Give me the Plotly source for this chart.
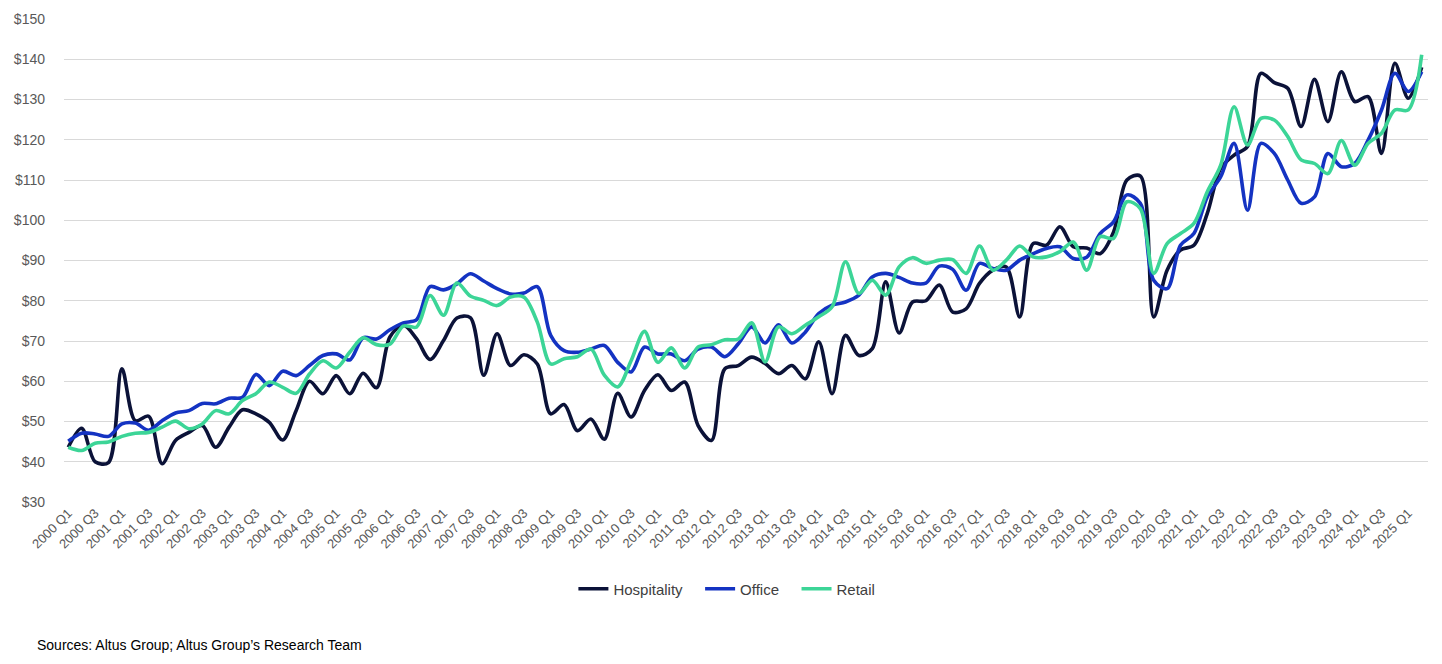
import plotly.graph_objects as go

years = list(range(2000, 2026))
quarters = [f"{y} Q{q}" for y in years for q in (1, 2, 3, 4)][:102]

hospitality = [43.6, 48.3, 40.0, 39.8, 63.1, 50.2, 51.3, 39.5, 45.3, 47.3,
               49.0, 43.6, 48.6, 52.9, 51.9, 49.8, 45.4, 52.7, 60.0, 56.9,
               61.4, 56.9, 62.0, 58.4, 71.0, 74.0, 70.5, 65.4, 70.1, 75.7,
               75.8, 61.5, 71.8, 63.9, 66.6, 64.3, 51.9, 54.2, 47.7, 50.6,
               45.6, 57.0, 51.1, 57.7, 61.6, 57.7, 59.8, 49.0, 45.3, 63.1,
               63.9, 66.0, 64.4, 61.9, 63.9, 60.6, 69.8, 56.9, 71.4, 66.4,
               68.1, 84.7, 72.0, 79.7, 80.0, 83.9, 77.2, 78.0, 84.3, 87.6,
               88.4, 76.0, 94.2, 93.8, 98.4, 93.4, 93.1, 91.7, 97.0, 110.0,
               111.0, 76.0, 87.6, 92.6, 93.8, 101.7, 112.9, 116.2, 118.3, 136.5,
               134.2, 132.8, 123.3, 135.0, 124.5, 136.9, 129.5, 130.7, 116.6, 139.0,
               130.3, 138.0]

office = [45.1, 47.1, 46.9, 46.3, 49.4, 49.6, 47.8, 50.2, 52.1, 52.7,
          54.5, 54.4, 55.8, 56.0, 61.7, 58.9, 62.5, 61.4, 63.9, 66.4,
          66.8, 65.3, 70.8, 70.5, 72.8, 74.5, 75.3, 83.5, 82.7, 84.2,
          86.7, 84.9, 83.0, 81.7, 81.9, 83.5, 71.4, 67.6, 67.2, 68.0,
          68.9, 64.7, 62.3, 68.5, 66.8, 66.8, 65.1, 68.0, 68.5, 66.1,
          69.3, 73.5, 69.5, 74.0, 69.5, 72.2, 76.8, 78.9, 79.7, 81.4,
          85.9, 86.8, 85.8, 84.4, 84.4, 88.6, 87.8, 82.6, 89.3, 88.0,
          87.6, 90.1, 91.7, 93.0, 93.4, 90.5, 90.8, 96.7, 99.6, 106.3,
          104.2, 85.1, 83.0, 93.8, 96.7, 105.8, 110.8, 119.1, 102.5, 119.1,
          116.6, 110.0, 104.2, 105.8, 116.6, 113.3, 114.1, 119.9, 127.4, 136.5,
          132.0, 136.9]

retail = [43.6, 42.8, 44.6, 44.9, 46.3, 47.1, 47.3, 48.6, 50.1, 48.2,
          49.4, 52.7, 51.9, 55.2, 56.9, 59.8, 58.5, 57.0, 61.8, 65.1,
          63.3, 67.2, 70.8, 69.1, 69.2, 73.7, 73.5, 81.3, 76.4, 84.4,
          81.2, 80.1, 78.8, 80.9, 80.9, 74.7, 64.3, 65.6, 66.1, 68.0,
          61.5, 58.6, 65.1, 72.4, 64.7, 68.3, 63.3, 68.5, 69.1, 70.3,
          70.5, 74.5, 64.8, 73.5, 71.8, 73.9, 76.0, 78.5, 89.7, 81.8,
          85.1, 81.4, 88.4, 90.7, 89.3, 90.1, 90.2, 86.8, 93.6, 87.6,
          90.1, 93.6, 90.9, 90.9, 92.2, 94.6, 87.6, 95.9, 95.5, 104.6,
          102.9, 86.8, 94.2, 96.7, 99.2, 107.1, 113.7, 128.2, 118.7, 125.3,
          124.9, 120.8, 115.0, 114.1, 111.6, 119.8, 113.7, 119.1, 121.6, 127.4,
          127.4, 141.1]

tick_labels = quarters[::2]

series = [("Hospitality", hospitality, "#0b1238"),
          ("Office", office, "#1433c2"),
          ("Retail", retail, "#3cd597")]

NBSP = "\u00a0"
fig = go.Figure()
for k, (name, vals, color) in enumerate(series):
    label = name + (NBSP * 3 if k < len(series) - 1 else "")
    fig.add_trace(go.Scatter(
        x=quarters, y=vals, name=label, mode="lines",
        line=dict(color=color, width=3.6, shape="spline", smoothing=0.9),
        hovertemplate=name + ": %{y:$.1f}<extra>%{x}</extra>"))

font_family = "Liberation Sans, Arial, sans-serif"
fig.update_layout(
    width=1442, height=664,
    margin=dict(l=56, r=22, t=11, b=170, autoexpand=False),
    paper_bgcolor="white", plot_bgcolor="white",
    font=dict(family=font_family, color="#595959", size=13),
    showlegend=True,
    legend=dict(orientation="h", x=0.486, xanchor="center", y=-0.18, yanchor="middle",
                font=dict(size=15, color="#404040"), itemwidth=30,
                traceorder="normal"),
    xaxis=dict(type="category", range=[-0.32, 101.47], automargin=False,
               tickmode="array", tickvals=tick_labels, ticktext=tick_labels,
               tickangle=-45, tickfont=dict(size=13, color="#595959"),
               showgrid=False, showline=False, zeroline=False, ticks=""),
    yaxis=dict(range=[30, 150], dtick=10, tickprefix="$", automargin=False,
               showgrid=True, gridcolor="#d9d9d9", gridwidth=1,
               zeroline=False, showline=False, ticks="",
               ticklabelstandoff=18,
               tickfont=dict(size=14, color="#595959")),
    annotations=[dict(text="Sources: Altus Group; Altus Group\u2019s Research Team",
                      xref="paper", yref="paper", x=-0.0213, y=-0.296,
                      xanchor="left", yanchor="middle", showarrow=False,
                      font=dict(size=14, color="#000000", family=font_family))]
)

fig.write_html("out.html")
